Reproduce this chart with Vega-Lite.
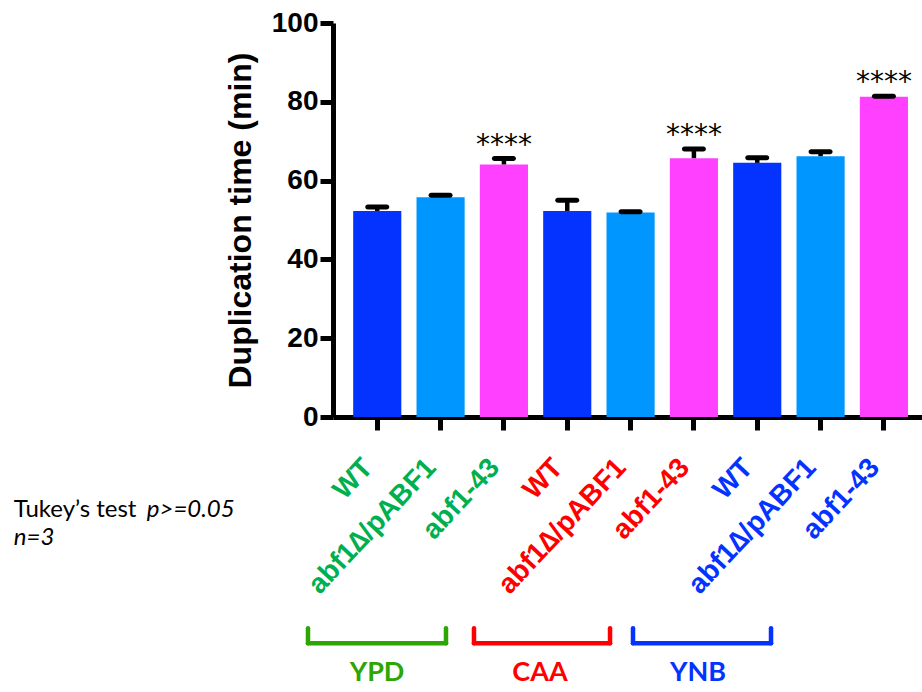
{
  "$schema": "https://vega.github.io/schema/vega-lite/v6.json",
  "width": 589,
  "height": 394,
  "autosize": {"type": "none"},
  "padding": {"left": 333, "top": 23, "right": 0, "bottom": 275},
  "background": "white",
  "config": {"view": {"stroke": null}},
  "datasets": {
    "bars": [
      {"id": "YPD|WT", "group": "YPD", "strain": "WT", "mean": 52.3, "upper": 53.3, "sig": ""},
      {"id": "YPD|abf1∆/pABF1", "group": "YPD", "strain": "abf1∆/pABF1", "mean": 55.8, "upper": 56.3, "sig": ""},
      {"id": "YPD|abf1-43", "group": "YPD", "strain": "abf1-43", "mean": 64.1, "upper": 65.6, "sig": "****"},
      {"id": "CAA|WT", "group": "CAA", "strain": "WT", "mean": 52.3, "upper": 55.0, "sig": ""},
      {"id": "CAA|abf1∆/pABF1", "group": "CAA", "strain": "abf1∆/pABF1", "mean": 51.9, "upper": 52.1, "sig": ""},
      {"id": "CAA|abf1-43", "group": "CAA", "strain": "abf1-43", "mean": 65.7, "upper": 68.0, "sig": "****"},
      {"id": "YNB|WT", "group": "YNB", "strain": "WT", "mean": 64.5, "upper": 65.8, "sig": ""},
      {"id": "YNB|abf1∆/pABF1", "group": "YNB", "strain": "abf1∆/pABF1", "mean": 66.2, "upper": 67.3, "sig": ""},
      {"id": "YNB|abf1-43", "group": "YNB", "strain": "abf1-43", "mean": 81.3, "upper": 81.4, "sig": "****"}
    ],
    "groups": [
      {"group": "YPD", "start": -0.095, "end": 2.084, "mid": 0.995},
      {"group": "CAA", "start": 2.526, "end": 4.674, "mid": 3.569},
      {"group": "YNB", "start": 5.037, "end": 7.216, "mid": 6.063}
    ],
    "notes": [
      {"note": "Tukey’s test", "x": -4.74, "y": -25.4},
      {"note": "p>=0.05", "x": -2.64, "y": -25.4},
      {"note": "n=3", "x": -4.74, "y": -32.5}
    ]
  },
  "resolve": {"scale": {"x": "independent", "y": "independent", "color": "independent"}},
  "layer": [
    {
      "data": {"name": "bars"},
      "encoding": {
        "x": {
          "field": "id",
          "type": "nominal",
          "sort": null,
          "scale": {"paddingInner": 0.24, "paddingOuter": 0.27, "align": 0.59},
          "axis": {
            "title": null,
            "labelExpr": "split(datum.value, '|')[1]",
            "labelAngle": -47,
            "labelAlign": "right",
            "labelBaseline": "middle",
            "labelPadding": 33,
            "labelOffset": -9,
            "labelFont": "Liberation Sans",
            "labelFontSize": 28,
            "labelFontWeight": "bold",
            "labelColor": {"condition": [
              {"test": "indexof(datum.value, 'YPD') == 0", "value": "#00B050"},
              {"test": "indexof(datum.value, 'CAA') == 0", "value": "#FF0000"}
            ], "value": "#0433FF"},
            "labelOverlap": false,
            "labelBound": false,
            "labelLimit": 0,
            "tickSize": 13,
            "tickWidth": 5,
            "tickColor": "black",
            "domainColor": "black",
            "domainWidth": 5
          }
        },
        "y": {
          "type": "quantitative",
          "scale": {"domain": [0, 100], "nice": false, "zero": true},
          "axis": {
            "title": "Duplication time (min)",
            "values": [0, 20, 40, 60, 80, 100],
            "grid": false,
            "labelFont": "Liberation Sans",
            "labelFontSize": 28,
            "labelFontWeight": "bold",
            "labelColor": "black",
            "labelPadding": 2,
            "tickSize": 13,
            "tickWidth": 5,
            "tickColor": "black",
            "domainColor": "black",
            "domainWidth": 5,
            "titleFont": "Liberation Sans",
            "titleFontSize": 32,
            "titleFontWeight": "bold",
            "titleColor": "black",
            "titlePadding": 14
          }
        }
      },
      "layer": [
        {
          "mark": {"type": "bar"},
          "encoding": {
            "y": {"field": "mean", "type": "quantitative"},
            "color": {
              "field": "strain",
              "type": "nominal",
              "scale": {"domain": ["WT", "abf1∆/pABF1", "abf1-43"], "range": ["#0433FF", "#0096FF", "#FF40FF"]},
              "legend": null
            }
          }
        },
        {
          "mark": {"type": "rule", "color": "black", "strokeWidth": 4.5},
          "encoding": {
            "y": {"field": "mean", "type": "quantitative"},
            "y2": {"field": "upper"}
          }
        },
        {
          "mark": {"type": "tick", "color": "black", "opacity": 1, "thickness": 5, "size": 24, "cornerRadius": 2.5},
          "encoding": {
            "y": {"field": "upper", "type": "quantitative"}
          }
        },
        {
          "mark": {"type": "text", "font": "DejaVu Sans", "fontSize": 28, "color": "black", "baseline": "alphabetic", "align": "center", "dy": -5},
          "encoding": {
            "y": {"field": "upper", "type": "quantitative"},
            "text": {"field": "sig"}
          }
        }
      ]
    },
    {
      "data": {"name": "groups"},
      "layer": [
        {
          "mark": {"type": "rule", "strokeWidth": 4.5, "strokeCap": "round"},
          "encoding": {
            "x": {"field": "start", "type": "quantitative", "scale": {"domain": [0.3, 9.6], "nice": false, "zero": false}, "axis": null},
            "x2": {"field": "end"},
            "y": {"datum": -57.4, "type": "quantitative", "scale": {"domain": [0, 100], "nice": false, "zero": false}, "axis": null},
            "color": {"field": "group", "type": "nominal", "scale": {"domain": ["YPD", "CAA", "YNB"], "range": ["#2CA600", "#FF0000", "#0433FF"]}, "legend": null}
          }
        },
        {
          "mark": {"type": "rule", "strokeWidth": 4.5, "strokeCap": "round"},
          "encoding": {
            "x": {"field": "start", "type": "quantitative", "scale": {"domain": [0.3, 9.6], "nice": false, "zero": false}, "axis": null},
            "y": {"datum": -53.6, "type": "quantitative", "scale": {"domain": [0, 100], "nice": false, "zero": false}, "axis": null},
            "y2": {"datum": -57.4},
            "color": {"field": "group", "type": "nominal", "legend": null}
          }
        },
        {
          "mark": {"type": "rule", "strokeWidth": 4.5, "strokeCap": "round"},
          "encoding": {
            "x": {"field": "end", "type": "quantitative", "scale": {"domain": [0.3, 9.6], "nice": false, "zero": false}, "axis": null},
            "y": {"datum": -53.6, "type": "quantitative", "scale": {"domain": [0, 100], "nice": false, "zero": false}, "axis": null},
            "y2": {"datum": -57.4},
            "color": {"field": "group", "type": "nominal", "legend": null}
          }
        },
        {
          "mark": {"type": "text", "font": "Lato", "fontSize": 27, "fontWeight": "bold", "align": "center", "baseline": "middle"},
          "encoding": {
            "x": {"field": "mid", "type": "quantitative", "scale": {"domain": [0.3, 9.6], "nice": false, "zero": false}, "axis": null},
            "y": {"datum": -65.0, "type": "quantitative", "scale": {"domain": [0, 100], "nice": false, "zero": false}, "axis": null},
            "text": {"field": "group"},
            "color": {"field": "group", "type": "nominal", "legend": null}
          }
        }
      ]
    },
    {
      "data": {"name": "notes"},
      "encoding": {
        "x": {"field": "x", "type": "quantitative", "scale": {"domain": [0.3, 9.6], "nice": false, "zero": false}, "axis": null},
        "y": {"field": "y", "type": "quantitative", "scale": {"domain": [0, 100], "nice": false, "zero": false}, "axis": null},
        "text": {"field": "note"}
      },
      "layer": [
        {
          "transform": [{"filter": "datum.note == 'Tukey’s test'"}],
          "mark": {"type": "text", "font": "Lato", "fontSize": 24, "align": "left", "baseline": "alphabetic", "color": "black"}
        },
        {
          "transform": [{"filter": "datum.note != 'Tukey’s test'"}],
          "mark": {"type": "text", "font": "Lato", "fontSize": 24, "fontStyle": "italic", "align": "left", "baseline": "alphabetic", "color": "black"}
        }
      ]
    }
  ]
}
